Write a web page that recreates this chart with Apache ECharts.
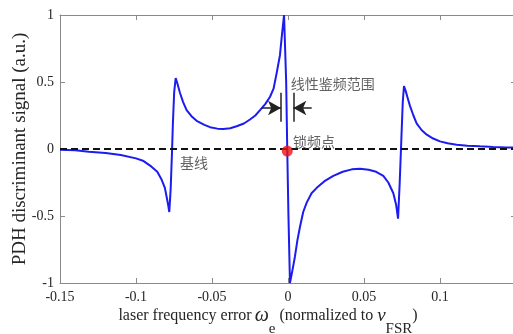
<!DOCTYPE html>
<html>
<head>
<meta charset="utf-8">
<script src="https://cdn.jsdelivr.net/npm/echarts@6/dist/echarts.min.js"></script>
<style>
html,body{margin:0;padding:0;background:#fff;}
#c{width:513px;height:334px;}
</style>
</head>
<body>
<div id="c"></div>
<script>
// ---- data ----
const signalX = [-0.15,-0.14,-0.131,-0.12,-0.11,-0.1,-0.095,-0.09,-0.086,-0.0831,-0.081,-0.0798,-0.0788,-0.0781,
  -0.0772,-0.0764,-0.0757,-0.0749,-0.0739,-0.0728,-0.0711,-0.069,-0.0667,-0.0635,-0.0601,-0.055,-0.0513,-0.0465,
  -0.0425,-0.038,-0.0338,-0.029,-0.025,-0.0215,-0.0184,-0.015,-0.0118,-0.0095,-0.0074,-0.0053,-0.004,-0.0026,
  -0.0012,-0.0005,0.0003,0.0013,0.003,0.0046,0.0062,0.0079,0.01,0.0123,0.0155,0.0189,0.024,0.0298,0.036,0.042,
  0.0474,0.053,0.058,0.0627,0.066,0.0693,0.0712,0.0724,0.0735,0.0745,0.0755,0.0763,0.0775,0.079,0.0803,0.0825,
  0.0847,0.088,0.0913,0.0955,0.1,0.105,0.111,0.118,0.1263,0.135,0.1437,0.15];
const signalY = [-0.005,-0.01,-0.02,-0.03,-0.045,-0.07,-0.09,-0.13,-0.17,-0.23,-0.29,-0.36,-0.42,-0.47,
  -0.3,-0.05,0.2,0.42,0.53,0.49,0.42,0.35,0.29,0.245,0.21,0.18,0.163,0.152,
  0.15,0.155,0.17,0.19,0.22,0.25,0.29,0.335,0.39,0.45,0.57,0.7,0.85,1.0,
  0.5,0.0,-0.5,-1.0,-0.9,-0.8,-0.68,-0.58,-0.47,-0.4,-0.33,-0.29,-0.24,-0.2,-0.17,-0.152,
  -0.147,-0.155,-0.17,-0.2,-0.25,-0.33,-0.42,-0.52,-0.25,0.05,0.35,0.47,0.43,0.37,0.32,0.25,
  0.19,0.14,0.107,0.078,0.057,0.043,0.032,0.025,0.02,0.015,0.012,0.01];
const baselineX = [-0.15, 0.15];
const baselineY = [0, 0];
const lockPoint = [-0.0005, -0.015];
const xTicks = [-0.15, -0.1, -0.05, 0, 0.05, 0.1, 0.15];
const yTicks = [-1, -0.5, 0, 0.5, 1];
const annoText = ['线性鉴频范围', '锁频点', '基线'];
const annoX = [0.0018, 0.0033, -0.0711];
const annoY = [0.49, 0.057, -0.104];
// linear-range markers (data coords)
const rangeLeftX = -0.0046, rangeRightX = 0.0035;
const rangeBarY = [0.204, 0.42];
const arrowY = 0.306;
const arrowStartX = [-0.0173, 0.0156];

const serif = 'Liberation Serif, Times New Roman, serif';
const cjk = 'Noto Sans CJK SC';
const axisCol = '#8a8a8a';
const txtCol = '#262626';

const chart = echarts.init(document.getElementById('c'), null, {renderer:'canvas'});

function fmt(v){
  if (Math.abs(v - 0.15) < 1e-9) return '';
  return String(+v.toFixed(2));
}
const commonAxis = {
  axisLine:{show:true, onZero:false, lineStyle:{color:axisCol, width:1}},
  axisTick:{show:true, inside:true, length:5, lineStyle:{color:axisCol}},
  splitLine:{show:false}
};

chart.setOption({
  animation:false,
  grid:{left:60, right:-3, top:15, bottom:51, containLabel:false, outerBoundsMode:'none'},
  xAxis:[
    Object.assign({}, commonAxis, {
      type:'value', min:xTicks[0], max:xTicks[xTicks.length-1], interval:0.05, position:'bottom',
      axisLabel:{formatter:fmt, color:txtCol, fontFamily:serif, fontSize:14, margin:7},
      name:'{n|laser frequency error}{i|ω}{s|e}{n| (normalized to }{v|ν}{s|FSR}{n|)}',
      nameLocation:'middle', nameGap:11, nameMoveOverlap:false,
      nameTextStyle:{color:txtCol, padding:[0,40,0,0], rich:{
        n:{fontFamily:serif, fontSize:16, lineHeight:43, verticalAlign:'middle', color:txtCol},
        i:{fontFamily:serif, fontSize:20, fontStyle:'italic', lineHeight:43, verticalAlign:'middle', color:txtCol, padding:[0,0,0,3]},
        v:{fontFamily:serif, fontSize:19, fontStyle:'italic', lineHeight:43, verticalAlign:'middle', color:txtCol},
        s:{fontFamily:serif, fontSize:15, lineHeight:15, verticalAlign:'bottom', color:txtCol}
      }}
    }),
    Object.assign({}, commonAxis, {
      type:'value', min:xTicks[0], max:xTicks[xTicks.length-1], interval:0.05, position:'top',
      axisLabel:{show:false}
    })
  ],
  yAxis:[
    Object.assign({}, commonAxis, {
      type:'value', min:yTicks[0], max:yTicks[yTicks.length-1], interval:0.5, position:'left',
      axisLabel:{formatter:v=>String(v), color:txtCol, fontFamily:serif, fontSize:14, margin:6},
      name:'PDH discriminant signal (a.u.)', nameLocation:'middle', nameGap:30, nameMoveOverlap:false,
      nameTextStyle:{fontFamily:serif, fontSize:19, color:txtCol}
    }),
    Object.assign({}, commonAxis, {
      type:'value', min:yTicks[0], max:yTicks[yTicks.length-1], interval:0.5, position:'right',
      axisLabel:{show:false}
    })
  ],
  series:[
    {
      type:'line', name:'signal', xAxisIndex:0, yAxisIndex:0,
      data: signalX.map((x,i)=>[x, signalY[i]]),
      showSymbol:false, symbol:'none', smooth:false,
      lineStyle:{color:'#1c1cf0', width:2}, z:2
    },
    {
      type:'line', name:'baseline', xAxisIndex:0, yAxisIndex:0,
      data: baselineX.map((x,i)=>[x, baselineY[i]]),
      showSymbol:false, symbol:'none',
      lineStyle:{color:'#111', width:2, type:[7,4]}, z:3,
      markLine:{
        silent:true, animation:false, symbol:['none','none'],
        label:{show:false},
        lineStyle:{color:'#222', width:1.5, type:'solid'},
        data:[
          [{coord:[rangeLeftX, rangeBarY[0]]},{coord:[rangeLeftX, rangeBarY[1]]}],
          [{coord:[rangeRightX, rangeBarY[0]]},{coord:[rangeRightX, rangeBarY[1]]}],
          [{coord:[arrowStartX[0], arrowY], symbol:'none'},{coord:[rangeLeftX, arrowY], symbol:'arrow', symbolSize:[11,13], itemStyle:{color:'#000'}}],
          [{coord:[arrowStartX[1], arrowY], symbol:'none'},{coord:[rangeRightX, arrowY], symbol:'arrow', symbolSize:[11,13], itemStyle:{color:'#000'}}]
        ]
      }
    },
    {
      type:'scatter', name:'lock', data:[lockPoint], symbolSize:11,
      itemStyle:{color:'#ee1111'}, z:5
    },
    {
      type:'scatter', name:'anno', silent:true,
      data: annoX.map((x,i)=>({value:[x, annoY[i]], name:annoText[i]})),
      symbolSize:0, itemStyle:{color:'rgba(0,0,0,0)'},
      label:{show:true, position:'right', distance:0, formatter:p=>p.name,
        color:'#3a3a3a', fontFamily:cjk, fontSize:14, verticalAlign:'middle'},
      z:6
    }
  ]
});
</script>
</body>
</html>
